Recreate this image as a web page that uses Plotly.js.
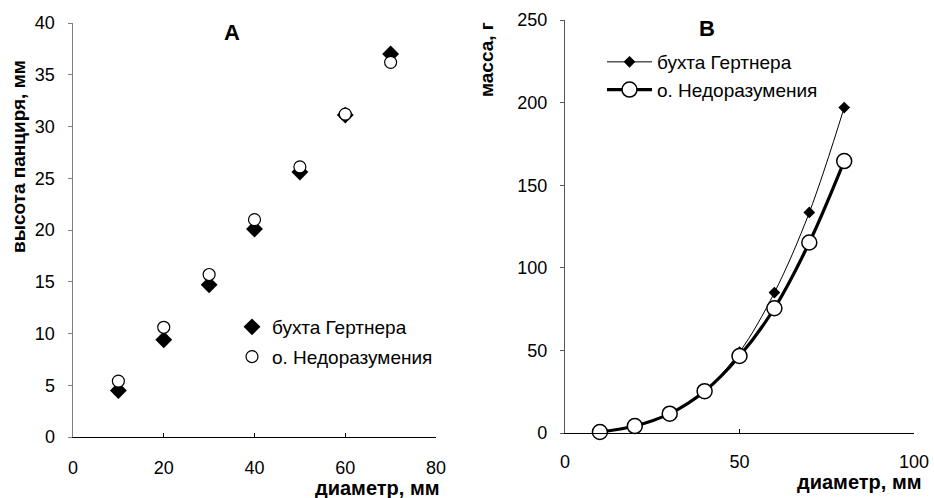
<!DOCTYPE html>
<html><head><meta charset="utf-8">
<script src="https://cdn.plot.ly/plotly-3.0.1.min.js"></script>
<style>body{margin:0;background:#fff}#c{width:934px;height:498px}</style>
</head><body><div id="c"></div>
<script>
// Panel A: shell height vs diameter
const diamA = [10, 20, 30, 40, 50, 60, 70];
const heightGertner = [4.5, 9.4, 14.7, 20.1, 25.6, 31.1, 37.0];
const heightNedor = [5.4, 10.6, 15.7, 21.0, 26.1, 31.2, 36.2];
// Panel B: mass vs diameter
const diamB = [10, 20, 30, 40, 50, 60, 70, 80];
const massGertner = [0.7, 4.0, 12.0, 25.5, 49.0, 85.0, 133.5, 197.0];
const massNedor = [0.6, 4.2, 11.7, 25.3, 46.6, 75.5, 115.3, 164.6];

const nameG = 'бухта Гертнера';
const nameN = 'о. Недоразумения';
const FONT = 'Liberation Sans, Arial, sans-serif';

const traces = [
  {x: diamA, y: heightGertner, name: nameG, type: 'scatter', mode: 'markers', legendgroup: 'a1',
   marker: {symbol: 'diamond', size: 13, color: '#000'}, xaxis: 'x', yaxis: 'y', legend: 'legend', cliponaxis: false},
  {x: diamA, y: heightNedor, name: nameN, type: 'scatter', mode: 'markers', legendgroup: 'a2',
   marker: {symbol: 'circle', size: 12, color: '#fff', line: {color: '#000', width: 1.2}}, xaxis: 'x', yaxis: 'y', legend: 'legend', cliponaxis: false},
  {x: diamB, y: massGertner, name: nameG, type: 'scatter', mode: 'lines+markers',
   line: {color: '#000', width: 1, shape: 'spline'},
   marker: {symbol: 'diamond', size: 9, color: '#000'}, xaxis: 'x2', yaxis: 'y2', legend: 'legend2', cliponaxis: false},
  {x: diamB, y: massNedor, name: nameN, type: 'scatter', mode: 'lines+markers',
   line: {color: '#000', width: 3.2, shape: 'spline'},
   marker: {symbol: 'circle', size: 15, color: '#fff', line: {color: '#000', width: 1.5}}, xaxis: 'x2', yaxis: 'y2', legend: 'legend2', cliponaxis: false}
];

const W = 934, H = 498;
const axBase = {showgrid: false, zeroline: false, showline: true, ticklen: 4,
  tickfont: {family: FONT, size: 18, color: '#000'}, fixedrange: true};

const layout = {
  width: W, height: H,
  margin: {l: 0, r: 0, t: 0, b: 0},
  paper_bgcolor: '#fff', plot_bgcolor: '#fff',
  font: {family: FONT, color: '#000'},
  showlegend: true,
  xaxis: Object.assign({}, axBase, {domain: [73/W, 436/W], range: [0, 80], dtick: 20, ticks: 'inside', linecolor: '#000', linewidth: 1.3, tickcolor: '#000', anchor: 'y', ticklabelstandoff: 14}),
  yaxis: Object.assign({}, axBase, {domain: [1-437/H, 1-23/H], range: [0, 40], dtick: 5, ticks: 'outside', linecolor: '#808080', linewidth: 1.5, tickcolor: '#808080', anchor: 'x', ticklabelstandoff: 9}),
  xaxis2: Object.assign({}, axBase, {domain: [565/W, 914/W], range: [0, 100], dtick: 50, ticks: 'inside', linecolor: '#000', linewidth: 1.3, tickcolor: '#000', anchor: 'y2', ticklabelstandoff: 12}),
  yaxis2: Object.assign({}, axBase, {domain: [1-433/H, 1-20/H], range: [0, 250], dtick: 50, ticks: 'outside', linecolor: '#555', linewidth: 1.2, tickcolor: '#555', anchor: 'x2', ticklabelstandoff: 9}),
  legend: {x: 232/W, y: 1-308/H, xanchor: 'left', yanchor: 'top', bgcolor: 'rgba(0,0,0,0)',
    font: {family: FONT, size: 19, color: '#000'}, tracegroupgap: 2, itemclick: false},
  legend2: {x: 602/W, y: 1-43/H, xanchor: 'left', yanchor: 'top', bgcolor: 'rgba(0,0,0,0)', itemwidth: 45,
    font: {family: FONT, size: 19, color: '#000'}, tracegroupgap: 0, itemclick: false},
  annotations: [
    {text: '<b>A</b>', x: 232/W, y: 1-32/H, xref: 'paper', yref: 'paper', xanchor: 'center', yanchor: 'middle', showarrow: false, font: {family: FONT, size: 22}},
    {text: '<b>B</b>', x: 707/W, y: 1-28/H, xref: 'paper', yref: 'paper', xanchor: 'center', yanchor: 'middle', showarrow: false, font: {family: FONT, size: 22}},
    {text: '<b>высота панциря, мм</b>', x: 19/W, y: 1-157/H, xref: 'paper', yref: 'paper', xanchor: 'center', yanchor: 'middle', showarrow: false, textangle: -90, font: {family: FONT, size: 19}},
    {text: '<b>масса, г</b>', x: 487/W, y: 1-60/H, xref: 'paper', yref: 'paper', xanchor: 'center', yanchor: 'middle', showarrow: false, textangle: -90, font: {family: FONT, size: 19}},
    {text: '<b>диаметр, мм</b>', x: 441/W, y: 1-488/H, xref: 'paper', yref: 'paper', xanchor: 'right', yanchor: 'middle', showarrow: false, font: {family: FONT, size: 20}},
    {text: '<b>диаметр, мм</b>', x: 923/W, y: 1-482/H, xref: 'paper', yref: 'paper', xanchor: 'right', yanchor: 'middle', showarrow: false, font: {family: FONT, size: 20}}
  ]
};

Plotly.newPlot('c', traces, layout, {staticPlot: true, displayModeBar: false});
</script></body></html>
